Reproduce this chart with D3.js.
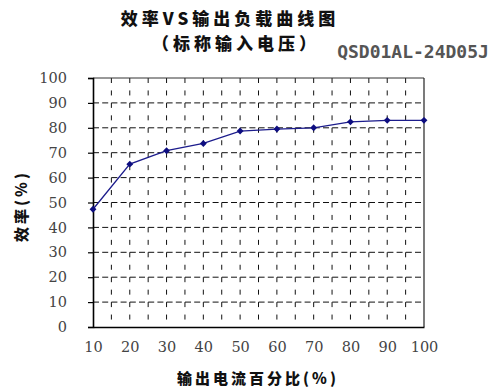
<!DOCTYPE html>
<html><head><meta charset="utf-8">
<script src="https://cdn.jsdelivr.net/npm/d3@7"></script>
<style>body{margin:0;background:#fff}</style>
</head><body>
<svg id="c" width="503" height="392"></svg>
<script>
const loadPct = [10,20,30,40,50,60,70,80,90,100];
const efficiency = [47.3,65.4,70.8,73.7,78.7,79.5,80.0,82.4,83.0,83.0];
const yTicks = [0,10,20,30,40,50,60,70,80,90,100];
const xTicks = [10,20,30,40,50,60,70,80,90,100];
const xGrid = d3.range(10,101,5);
const titleLines = ["效率VS输出负载曲线图","（标称输入电压）"];
const modelName = "QSD01AL-24D05J";
const xTitle = "输出电流百分比(%)";
const yTitle = "效率(%)";

const svg = d3.select("#c");
const L=93,R=424,T=78,B=327;
const x = d3.scaleLinear().domain([10,100]).range([L,R]);
const y = d3.scaleLinear().domain([0,100]).range([B,T]);
const serif = "'DejaVu Serif', serif";

// grid
svg.append("g").selectAll("line").data(yTicks.filter(d=>d>0&&d<100)).join("line")
  .attr("x1",L).attr("x2",R).attr("y1",d=>y(d)).attr("y2",d=>y(d))
  .attr("stroke","#111").attr("stroke-width",1).attr("stroke-dasharray","6,3.2");
svg.append("g").selectAll("line").data(xGrid.filter(d=>d>10&&d<100)).join("line")
  .attr("x1",d=>x(d)).attr("x2",d=>x(d)).attr("y1",T).attr("y2",B)
  .attr("stroke","#111").attr("stroke-width",1).attr("stroke-dasharray","5,7.45");

// frame
svg.append("line").attr("x1",L).attr("x2",R).attr("y1",T).attr("y2",T).attr("stroke","#333").attr("stroke-width",1);
svg.append("line").attr("x1",R).attr("x2",R).attr("y1",T).attr("y2",B).attr("stroke","#222").attr("stroke-width",1.2);

// axes
const yAxis = d3.axisLeft(y).tickValues(yTicks).tickSize(5).tickPadding(21);
const gy = svg.append("g").attr("transform",`translate(${L},0)`).call(yAxis);
const xAxis = d3.axisBottom(x).tickValues(xTicks).tickSize(0).tickPadding(15);
const gx = svg.append("g").attr("transform",`translate(0,${B})`).call(xAxis);
[gy,gx].forEach(g=>{
  g.attr("font-family",serif).attr("font-size",14.5);
  g.select(".domain").attr("stroke","#000").attr("stroke-width",1.6);
  g.selectAll(".tick line").attr("stroke","#000").attr("stroke-width",1.2);
  g.selectAll(".tick text").style("font-family",serif).style("font-size","14.5px").attr("fill","#444");
});

// line + markers
svg.append("path").datum(loadPct.map((d,i)=>[d,efficiency[i]]))
  .attr("fill","none").attr("stroke","#1c1c8c").attr("stroke-width",1.3)
  .attr("d",d3.line().x(d=>x(d[0])).y(d=>y(d[1])));
svg.append("g").selectAll("path").data(loadPct.map((d,i)=>[d,efficiency[i]])).join("path")
  .attr("transform",d=>`translate(${x(d[0])},${y(d[1])})`)
  .attr("d",d3.symbol().type(d3.symbolDiamond2).size(30))
  .attr("fill","#0d0d80");

// titles
const cjk="'Noto Sans CJK SC','Noto Sans CJK JP',sans-serif";
svg.append("text").attr("x",230).attr("y",17.5).attr("text-anchor","middle").attr("dominant-baseline","central")
  .style("font-family",cjk).attr("font-weight",900).attr("font-size",17).attr("letter-spacing","4px")
  .attr("fill","#111").text(titleLines[0]);
svg.append("text").attr("x",236).attr("y",42.5).attr("text-anchor","middle").attr("dominant-baseline","central")
  .style("font-family",cjk).attr("font-weight",900).attr("font-size",17).attr("letter-spacing","4px")
  .attr("fill","#111").text(titleLines[1]);
svg.append("text").attr("x",413).attr("y",58).attr("text-anchor","middle")
  .style("font-family","'DejaVu Sans Mono', monospace").attr("font-size",18).attr("font-weight","bold")
  .attr("fill","#555").text(modelName);
svg.append("text").attr("x",258).attr("y",377).attr("text-anchor","middle").attr("dominant-baseline","central")
  .style("font-family",cjk).attr("font-weight",900).attr("font-size",15).attr("letter-spacing","3px")
  .attr("fill","#111").text(xTitle);
svg.append("text").attr("transform","translate(20,206) rotate(-90)").attr("text-anchor","middle").attr("dominant-baseline","central")
  .style("font-family",cjk).attr("font-weight",900).attr("font-size",15).attr("letter-spacing","3px")
  .attr("fill","#111").text(yTitle);
</script>
</body></html>
